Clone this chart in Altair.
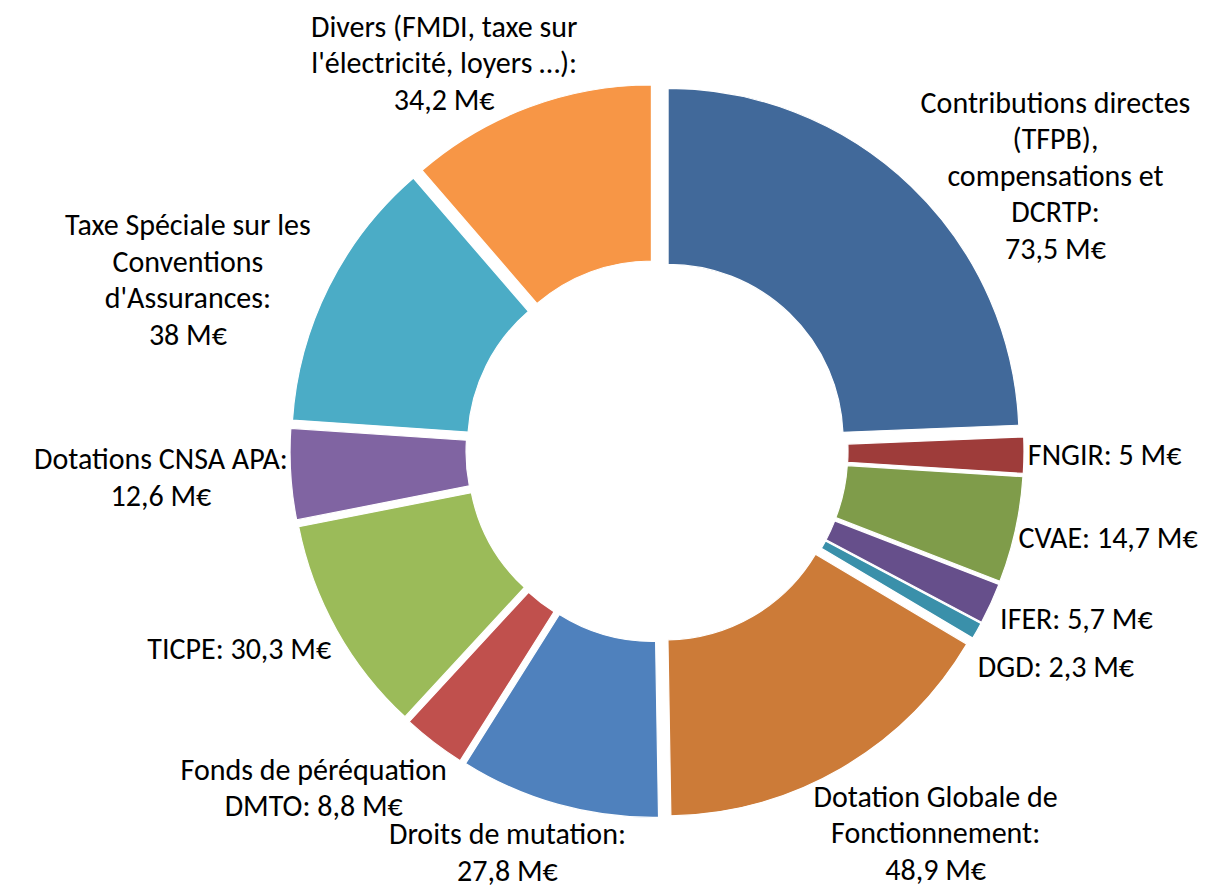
import altair as alt
import pandas as pd

# ---- data ----
names = [
    "Contributions directes\n(TFPB),\ncompensations et\nDCRTP:\n",
    "FNGIR: ",
    "CVAE: ",
    "IFER: ",
    "DGD: ",
    "Dotation Globale de\nFonctionnement:\n",
    "Droits de mutation:\n",
    "Fonds de péréquation\nDMTO: ",
    "TICPE: ",
    "Dotations CNSA APA:\n",
    "Taxe Spéciale sur les\nConventions\nd'Assurances:\n",
    "Divers (FMDI, taxe sur\nl'électricité, loyers …):\n",
]
values = [73.5, 5, 14.7, 5.7, 2.3, 48.9, 27.8, 8.8, 30.3, 12.6, 38, 34.2]
colors = [
    "#41699A", "#9E3C3A", "#7F9C4A", "#664F8B", "#3A90AA", "#CC7B38",
    "#4F81BD", "#C0504D", "#9BBB59", "#8064A2", "#4BACC6", "#F79646",
]

labels = [n + f"{v:g}".replace(".", ",") + " M€" for n, v in zip(names, values)]
df = pd.DataFrame({
    "idx": list(range(len(values))),
    "value": values,
    "label": labels,
    "col": colors,
    "nlines": [len(l.split("\n")) for l in labels],
    "maxlen": [max(len(p) for p in l.split("\n")) for l in labels],
})

OUTER = 351
INNER = 175
EXPLODE = 16
R0 = 380
CW = 12.3
LH = 36.5
GAP = 48
FONT = "Carlito, Calibri, Lato, sans-serif"

base = alt.Chart(df).transform_window(
    cum="sum(value)", sort=[alt.SortField("idx")], frame=[None, 0]
).transform_joinaggregate(
    total="sum(value)"
).transform_calculate(
    t1="2*PI*datum.cum/datum.total",
    t0="2*PI*(datum.cum-datum.value)/datum.total",
    mid="PI*(2*datum.cum-datum.value)/datum.total",
    s="sin(datum.mid)",
    c="cos(datum.mid)",
)

arcs = base.transform_calculate(
    ex=f"{EXPLODE}*datum.s",
    ey=f"-{EXPLODE}*datum.c",
).mark_arc(
    outerRadius=OUTER, innerRadius=INNER, stroke="white", strokeWidth=1.2
).encode(
    theta=alt.Theta("t0:Q", scale=None, stack=None),
    theta2="t1:Q",
    color=alt.Color("col:N", scale=None),
    xOffset=alt.XOffset("ex:Q", scale=None),
    yOffset=alt.YOffset("ey:Q", scale=None),
)

text = base.transform_calculate(
    fx="clamp(1.5*datum.s, -1, 1)",
    fy="datum.c < 0 ? -clamp(-1.5*datum.c, 0, 1) : clamp((datum.c-0.75)*3, 0, 1)",
    px=f"{R0}*datum.s + datum.maxlen*{CW}/2*datum.fx",
    py0=f"-{R0}*datum.c - datum.nlines*{LH}/2*datum.fy - (datum.nlines-1)*{LH}/2",
).transform_window(
    prev_py="lag(py0)", prev_s="lag(s)", sort=[alt.SortField("idx")]
).transform_calculate(
    py=(f"(datum.prev_py != null && datum.s > 0 && datum.prev_s > 0 && datum.c < 0 "
        f"&& datum.py0 - datum.prev_py < {GAP}) ? datum.prev_py + {GAP} : datum.py0"),
    rl="sqrt(datum.px*datum.px + datum.py*datum.py)",
    th="atan2(datum.px, -datum.py)",
).mark_text(
    align="center", baseline="middle", lineBreak="\n", lineHeight=LH,
    fontSize=30, font=FONT, color="#000000",
).encode(
    theta=alt.Theta("th:Q", scale=None, stack=None),
    radius=alt.Radius("rl:Q", scale=None),
    text="label:N",
)

chart = alt.layer(arcs, text).properties(
    width=1000, height=880,
    padding={"left": 149, "top": 3, "right": 50, "bottom": 0},
    autosize=alt.AutoSizeParams(type="none"),
).configure_view(stroke=None)

chart.save("out.html", embed_options={"renderer": "svg", "actions": False})
